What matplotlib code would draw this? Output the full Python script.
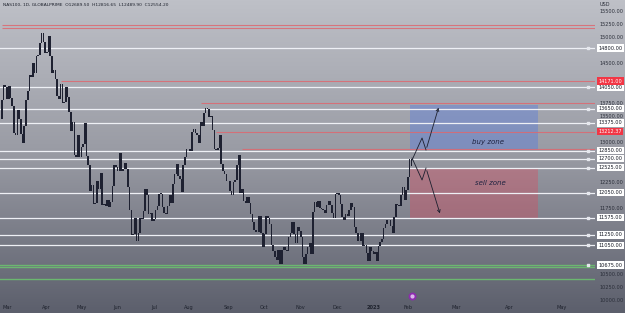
import numpy as np
import pandas as pd
import matplotlib
matplotlib.use('Agg')
import matplotlib.pyplot as plt
from matplotlib.patches import Rectangle

# ---- daily closes (NAS100, 1D) ----
first_open = 13450
close_feb22 = [13820, 14090, 14060]
close_mar22 = [13830, 14080, 13850, 13700, 13180, 13140, 13620, 13460, 13160, 12990, 13320, 13820,
               13990, 14280, 14240, 14520, 14320, 14650, 14660, 14890, 15080, 14910, 14700]
close_apr22 = [14720, 15020, 14650, 14330, 14390, 14220, 13880, 13830, 14120, 13760, 13770, 14050,
               13870, 13580, 13220, 13400, 12760, 12720, 13140, 12730]
close_may22 = [12920, 12970, 13380, 12740, 12580, 12080, 12190, 11830, 11860, 12270, 12130, 12420,
               11820, 11830, 11800, 11920, 11780, 11880, 12170, 12570, 12530]
close_jun22 = [12470, 12810, 12460, 12500, 12620, 12510, 12160, 11730, 11240, 11270, 11570, 11140,
               11290, 11570, 11560, 11710, 12120, 12000, 11650, 11660, 11520]
close_jul22 = [11560, 11720, 11790, 12030, 12030, 11780, 11670, 11650, 11790, 12000, 11860, 12220,
               12410, 12600, 12370, 12310, 12070, 12580, 12730, 12890]
close_aug22 = [12880, 12850, 13200, 13260, 13190, 13150, 13000, 13390, 13310, 13560, 13660, 13640,
               13480, 13500, 13240, 12880, 12870, 12900, 13150, 12600, 12470, 12400, 12280]
close_sep22 = [12270, 12080, 12000, 12250, 12300, 12570, 12760, 12050, 12120, 11900, 11860, 11960,
               11850, 11650, 11500, 11340, 11300, 11310, 11600, 11290, 11020]
close_oct22 = [11270, 11600, 11570, 11460, 11050, 10950, 10830, 10780, 10960, 10700, 10960, 11020,
               10970, 10950, 11200, 11280, 11500, 11260, 11090, 11400, 11330]
close_nov22 = [11200, 10830, 10690, 10880, 11010, 11100, 10880, 11680, 11880, 11770, 11900, 11760,
               11750, 11720, 11670, 11810, 11900, 11810, 11660, 11570, 12020]
close_dec22 = [12050, 12010, 11830, 11590, 11530, 11650, 11600, 11730, 11850, 11770, 11400, 11290,
               11140, 11130, 11280, 11030, 11060, 10900, 10760, 11010, 10950]
close_jan23 = [10880, 10920, 10760, 11040, 11110, 11180, 11380, 11460, 11530, 11540, 11410, 11290,
               11590, 11830, 11810, 11790, 12000, 12150, 11920, 12100]
close_feb23 = [12350, 12690, 12554.2]

holidays = ['2022-04-15', '2022-05-30', '2022-06-20', '2022-07-04', '2022-09-05',
            '2022-11-24', '2022-12-26', '2023-01-02', '2023-01-16']

# horizontal levels
white_levels = [14800, 14050, 13650, 13375, 12850, 12700, 12525, 12050, 11575, 11250, 11050]
green_levels = [10675, 10640, 10420]
red_levels = [15240, 15185, 14171, 13750, 13212.37, 12880]
red_start = ['2022-02-24', '2022-02-24', '2022-04-13', '2022-08-10', '2022-08-23', '2022-09-14']
red_labels = {14171: '14171.00', 13212.37: '13212.37'}
box_labels = ['14800.00', '14050.00', '13650.00', '13375.00', '12850.00', '12700.00', '12525.00',
              '12050.00', '11575.00', '11250.00', '11050.00', '10675.00']
box_prices = [14800, 14050, 13650, 13375, 12850, 12700, 12525, 12050, 11575, 11250, 11050, 10675]

buy_zone = (13720, 12860)
sell_zone = (12520, 11570)
up_path = [12670, 13090, 12862, 13717]
down_path = [12710, 12292, 12520, 11608]
path_steps = [0, 5.8, 8.1, 15.8]

header = 'NAS100, 1D, GLOBALPRIME  O12689.50  H12816.65  L12489.90  C12554.20'

closes = np.array(close_feb22 + close_mar22 + close_apr22 + close_may22 + close_jun22 + close_jul22
                  + close_aug22 + close_sep22 + close_oct22 + close_nov22 + close_dec22
                  + close_jan23 + close_feb23, dtype=float)
opens = np.concatenate([[first_open], closes[:-1]])

dates = pd.bdate_range('2022-02-24', '2023-02-03')
dates = dates[~dates.isin(pd.to_datetime(holidays))]
dates = dates[:len(closes)]
bars = np.arange(len(closes))
last_bar = bars[-1]
last_date = dates[-1]


def date_to_bar(d):
    d = pd.Timestamp(d)
    if d <= last_date:
        return int(np.searchsorted(dates, d))
    return last_bar + (d - last_date).days


fig = plt.figure(figsize=(6.25, 3.13), dpi=100)

# background gradient
bg = fig.add_axes([0, 0, 1, 1])
top = np.array([190, 192, 199]) / 255
mid = np.array([152, 154, 163]) / 255
bot = np.array([92, 95, 108]) / 255
t = np.linspace(0, 1, 300)[:, None]
grad = np.where(t < 0.5, top + (mid - top) * (t / 0.5), mid + (bot - mid) * ((t - 0.5) / 0.5))
bg.imshow(grad[:, None, :], aspect='auto', extent=[0, 1, 0, 1])
bg.axis('off')

ax = fig.add_axes([0, 12 / 313, 595 / 625, 301 / 313])
ax.patch.set_alpha(0)
for s in ax.spines.values():
    s.set_visible(False)
ax.set_xticks([])
ax.set_yticks([])
ax.set_xlim(-1.05, 343.3)
ax.set_ylim(9993, 15712)

# zones
x0, x1 = 236.2, 310.3
ax.add_patch(Rectangle((x0, buy_zone[1]), x1 - x0, buy_zone[0] - buy_zone[1],
                       facecolor='#4a74e8', alpha=0.35, lw=0, zorder=1))
ax.add_patch(Rectangle((x0, sell_zone[1]), x1 - x0, sell_zone[0] - sell_zone[1],
                       facecolor='#e0455a', alpha=0.35, lw=0, zorder=1))
ax.text(281.5, 13015, 'buy zone', style='italic', fontsize=5, color='#1e2340', ha='center', va='center')
ax.text(282.5, 12235, 'sell zone', style='italic', fontsize=5, color='#1e2340', ha='center', va='center')

# levels
for p in white_levels:
    ax.axhline(p, color='#eef0f5', lw=0.9, zorder=2)
for p, d in zip(red_levels, red_start):
    ax.hlines(p, date_to_bar(d), 343.3, color='#dd6870', lw=0.8, alpha=0.85, zorder=2)
for p in green_levels:
    ax.axhline(p, color='#6cc070', lw=1.0, alpha=0.9, zorder=2)
ax.scatter([339.5] * len(white_levels + green_levels[:1]), white_levels + green_levels[:1],
           s=3, marker='s', color='#e6e8ee', zorder=3)

# candles
lo = np.minimum(opens, closes)
hi = np.maximum(opens, closes)
ax.bar(bars, np.maximum(hi - lo, 10), bottom=lo, width=0.9, color='#1e2131', lw=0, zorder=4)

# scenario paths
xs = [last_bar + 0.4 + s for s in path_steps]
ax.plot(xs[:-1], up_path[:-1], color='#1c1f2e', lw=0.6, zorder=5)
ax.annotate('', xy=(xs[-1], up_path[-1]), xytext=(xs[-2], up_path[-2]),
            arrowprops=dict(arrowstyle='->', color='#1c1f2e', lw=0.6, mutation_scale=5), zorder=5)
ax.plot(xs[:-1], down_path[:-1], color='#1c1f2e', lw=0.6, zorder=5)
ax.annotate('', xy=(xs[-1] + 0.8, down_path[-1]), xytext=(xs[-2], down_path[-2]),
            arrowprops=dict(arrowstyle='->', color='#1c1f2e', lw=0.6, mutation_scale=5), zorder=5)

# event marker
ax.scatter([last_bar + 0.4], [10090], s=22, color='#8e2bb0', zorder=6, clip_on=False)
ax.scatter([last_bar + 0.4], [10090], s=4, color='#d9b8e8', zorder=7, clip_on=False)

# price scale
ytr = ax.get_yaxis_transform()
for p in np.arange(10000, 15750, 250):
    if min(abs(p - b) for b in box_prices + [14171, 13212.37]) < 90:
        continue
    ax.text(1.008, p, f'{p:.2f}', transform=ytr, fontsize=3.6, color='#2a2e39',
            va='center', ha='left', clip_on=False)
for p, s in zip(box_prices, box_labels):
    ax.text(1.006, p, s, transform=ytr, fontsize=3.6, color='#131722', va='center', ha='left',
            clip_on=False, bbox=dict(boxstyle='square,pad=0.25', fc='white', ec='none'))
for p, s in red_labels.items():
    ax.text(1.006, p, s, transform=ytr, fontsize=3.6, color='white', va='center', ha='left',
            clip_on=False, bbox=dict(boxstyle='square,pad=0.25', fc='#f23645', ec='none'))
fig.text(600 / 625, 1 - 5 / 313, 'USD', fontsize=3.6, color='#2a2e39', va='center')

# time scale
xtr = ax.get_xaxis_transform()
months = pd.date_range('2022-03-01', '2023-05-01', freq='MS')
for m in months:
    b = date_to_bar(m)
    lab = '2023' if (m.year == 2023 and m.month == 1) else m.strftime('%b')
    ax.text(b, -0.02, lab, transform=xtr, fontsize=3.6, color='#1e222d', ha='center', va='center',
            fontweight='bold' if lab == '2023' else 'normal', clip_on=False)

fig.text(3 / 625, 1 - 5 / 313, header, fontsize=3.2, color='#1e222d', va='center')

fig.savefig('out.png', dpi=100)
